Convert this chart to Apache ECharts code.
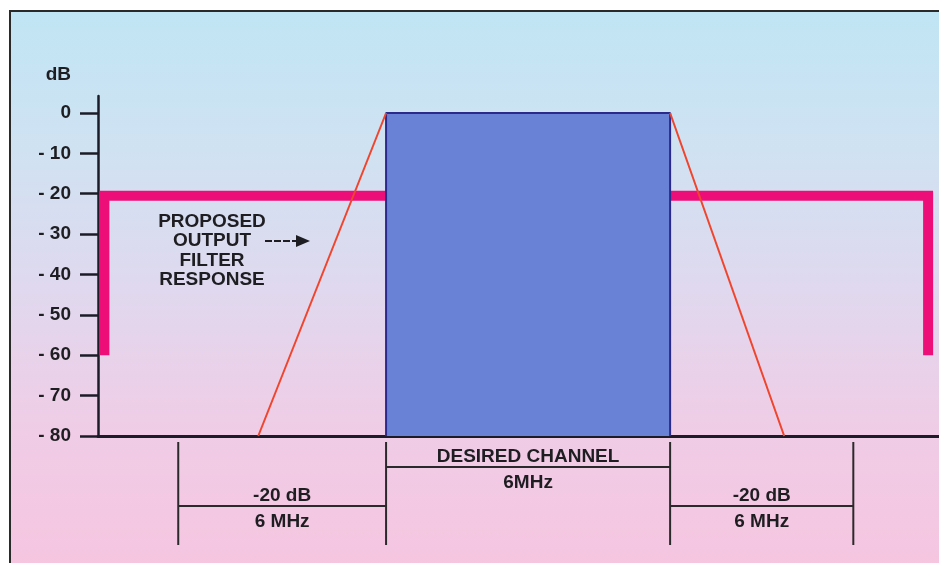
<!DOCTYPE html>
<html>
<head>
<meta charset="utf-8">
<script src="https://cdn.jsdelivr.net/npm/echarts@6/dist/echarts.min.js"></script>
<style>
  html, body { margin: 0; padding: 0; background: #fff; }
  .panel {
    position: absolute; left: 9px; top: 10px; width: 940px; height: 560px;
    border-left: 2px solid #2a2a2a; border-top: 2px solid #2a2a2a;
    background: linear-gradient(to bottom, #c0e5f4 0%, #d0e2f2 25%, #e0d8ee 50%, #f0cce6 75%, #f6c5e0 100%);
  }
  #chart { position: absolute; left: 0; top: 0; width: 939px; height: 563px; }
</style>
</head>
<body>
<div class="panel"></div>
<div id="chart"></div>
<script>
// y ticks in dB
const dbTicks = [0, -10, -20, -30, -40, -50, -60, -70, -80];
// frequency in MHz, desired channel spans 0..6
const channel = [[0, -80], [0, 0], [6, 0], [6, -80]];
const maskLeft = [[-5.95, -60], [-5.95, -20.5], [0, -20.5]];
const maskRight = [[6, -20.5], [11.45, -20.5], [11.45, -60]];
const filterLeft = [[-2.7, -80], [0, 0]];
const filterRight = [[6, 0], [8.41, -80]];
// dimension marks under the axis
const dimEdges = [-4.39, 0, 6, 9.87];
const dimLabels = [["-20 dB", "6 MHz"], ["DESIRED CHANNEL", "6MHz"], ["-20 dB", "6 MHz"]];
const noteText = ["PROPOSED", "OUTPUT", "FILTER", "RESPONSE"];

const font = "'Liberation Sans', Arial, sans-serif";
const ink = "#1e1e22";

let chart = echarts.init(document.getElementById("chart"));

let option = {
  backgroundColor: "transparent",
  animation: false,
  grid: { left: 98, right: 0, top: 96, bottom: 127 },
  xAxis: {
    type: "value",
    min: -6.085,
    max: 11.68,
    axisLine: { show: true, onZero: false, lineStyle: { color: "#1c1c28", width: 3 } },
    axisTick: { show: false },
    axisLabel: { show: false },
    splitLine: { show: false }
  },
  yAxis: {
    type: "value",
    min: -80,
    max: 4.21,
    name: "dB",
    nameLocation: "end",
    nameGap: 12,
    nameTextStyle: { color: ink, fontFamily: font, fontSize: 19, fontWeight: "bold", align: "right", padding: [0, 27, 0, 0] },
    axisLine: { show: true, onZero: false, lineStyle: { color: "#1c1c28", width: 2.5 } },
    axisTick: { show: true, length: 18, customValues: dbTicks, lineStyle: { color: "#1c1c28", width: 2.5 } },
    axisLabel: {
      customValues: dbTicks,
      margin: 27,
      color: ink,
      fontFamily: font,
      fontSize: 19,
      fontWeight: "bold",
      formatter: function (v) {
        return v === 0 ? "0" : "- " + Math.abs(v);
      }
    },
    splitLine: { show: false }
  },
  series: [
    {
      name: "mask left",
      type: "line",
      data: maskLeft,
      symbol: "none",
      lineStyle: { color: "#ee0e78", width: 10, join: "miter", cap: "butt" }
    },
    {
      name: "mask right",
      type: "line",
      data: maskRight,
      symbol: "none",
      lineStyle: { color: "#ee0e78", width: 10, join: "miter", cap: "butt" }
    },
    {
      name: "desired channel",
      type: "line",
      data: channel,
      symbol: "none",
      lineStyle: { color: "#2b2a8c", width: 2 },
      areaStyle: { color: "#6a82d6", opacity: 1, origin: "start" }
    },
    {
      name: "filter left",
      type: "line",
      data: filterLeft,
      symbol: "none",
      lineStyle: { color: "#f0442c", width: 2 }
    },
    {
      name: "filter right",
      type: "line",
      data: filterRight,
      symbol: "none",
      lineStyle: { color: "#f0442c", width: 2 }
    }
  ]
};

chart.setOption(option);

// build dimension marks from the axis scale
let px = dimEdges.map(function (f) {
  return chart.convertToPixel({ gridIndex: 0 }, [f, -80])[0];
});
let graphic = [];
let textFont = "bold 19px " + font;
px.forEach(function (x) {
  graphic.push({
    type: "line",
    shape: { x1: x, y1: 442, x2: x, y2: 545 },
    style: { stroke: "#2a2a2a", lineWidth: 2 }
  });
});
let barY = [506, 467, 506];
for (let i = 0; i < 3; i++) {
  let x1 = px[i], x2 = px[i + 1], cx = (x1 + x2) / 2;
  graphic.push({
    type: "line",
    shape: { x1: x1, y1: barY[i], x2: x2, y2: barY[i] },
    style: { stroke: "#2a2a2a", lineWidth: 2 }
  });
  graphic.push({
    type: "text",
    x: cx, y: barY[i] - 10,
    style: { text: dimLabels[i][0], fill: ink, font: textFont, textAlign: "center", textVerticalAlign: "middle" }
  });
  graphic.push({
    type: "text",
    x: cx, y: barY[i] + 16,
    style: { text: dimLabels[i][1], fill: ink, font: textFont, textAlign: "center", textVerticalAlign: "middle" }
  });
}
// note and arrow
graphic.push({
  type: "text",
  x: 212, y: 212,
  style: { text: noteText.join("\n"), fill: ink, font: textFont, textAlign: "center", textVerticalAlign: "top", lineHeight: 19.5 }
});
graphic.push({
  type: "line",
  shape: { x1: 265, y1: 241, x2: 300, y2: 241 },
  style: { stroke: ink, lineWidth: 2, lineDash: [7, 2] }
});
graphic.push({
  type: "polygon",
  shape: { points: [[296, 235], [310, 241], [296, 247]] },
  style: { fill: ink }
});
chart.setOption({ graphic: graphic });
</script>
</body>
</html>
